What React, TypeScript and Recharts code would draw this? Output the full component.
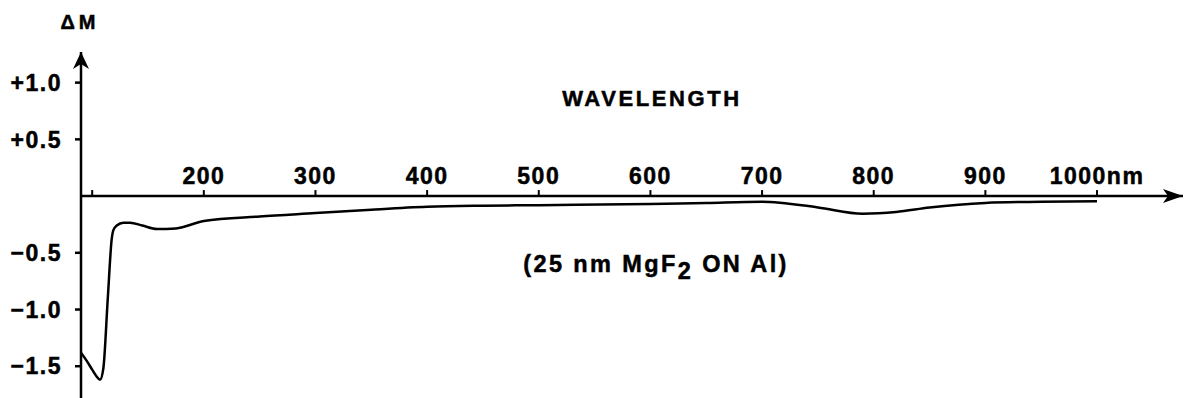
import React from "react";
import {
  LineChart,
  Line,
  XAxis,
  YAxis,
  ReferenceLine,
  ReferenceDot,
} from "recharts";

// wavelength (nm) and change of reflectance ΔM
const wavelengths = [
  90, 95, 100, 104, 107, 110, 114, 117.5, 119, 122, 128, 134, 145, 158, 175,
  200, 250, 300, 350, 400, 450, 500, 600, 650, 700, 750, 790, 820, 850, 900,
  950, 1000,
];
const deltaM = [
  -1.38, -1.45, -1.53, -1.59, -1.62, -1.52, -0.9, -0.38, -0.3, -0.26, -0.235,
  -0.235, -0.26, -0.29, -0.285, -0.22, -0.18, -0.15, -0.12, -0.095, -0.085,
  -0.08, -0.07, -0.06, -0.05, -0.1, -0.155, -0.14, -0.1, -0.06, -0.05, -0.045,
];

const xTicks = [100, 200, 300, 400, 500, 600, 700, 800, 900, 1000];
const xTickLabels = ["", "200", "300", "400", "500", "600", "700", "800", "900", "1000nm"];
const yTicks = [1, 0.5, -0.5, -1, -1.5];
const yTickLabels = ["+1.0", "+0.5", "\u22120.5", "\u22121.0", "\u22121.5"];

const X_DOMAIN: [number, number] = [90, 1077];
const Y_DOMAIN: [number, number] = [-1.78, 1.27];

const FONT = "'Liberation Sans', Arial, Helvetica, sans-serif";

const data = wavelengths.map((nm, i) => ({ nm, dm: deltaM[i] }));

const textStyle: React.CSSProperties = {
  position: "absolute",
  fontFamily: FONT,
  fontWeight: "bold",
  color: "#000",
  whiteSpace: "nowrap",
  transform: "translate(-50%, -50%)",
  WebkitTextStroke: "0.5px #000",
};

export default function App() {
  return (
    <div
      style={{
        position: "absolute",
        left: 0,
        top: 0,
        width: 1188,
        height: 398,
        background: "#fff",
      }}
    >
      <LineChart
        width={1188}
        height={398}
        data={data}
        margin={{ top: 52, right: 5, bottom: 0, left: 6 }}
      >
        <XAxis
          dataKey="nm"
          type="number"
          domain={X_DOMAIN}
          allowDataOverflow
          hide
        />
        <YAxis
          type="number"
          domain={Y_DOMAIN}
          allowDataOverflow
          ticks={yTicks}
          width={75}
          tickSize={6}
          tickMargin={13}
          axisLine={{ stroke: "#000", strokeWidth: 2.5 }}
          tickLine={{ stroke: "#000", strokeWidth: 2.5 }}
          tickFormatter={(v: number) => yTickLabels[yTicks.indexOf(v)] ?? ""}
          tick={{
            fill: "#000",
            stroke: "#000",
            strokeWidth: 0.5,
            fontSize: 23,
            fontWeight: "bold",
            fontFamily: FONT,
            letterSpacing: 1.5,
          }}
        />
        <ReferenceLine y={0} stroke="#000" strokeWidth={2.5} />
        {xTicks.map((t, i) => (
          <ReferenceDot
            key={t}
            x={t}
            y={0}
            ifOverflow="visible"
            shape={(p: any) => (
              <g>
                <line x1={p.cx} y1={p.cy} x2={p.cx} y2={p.cy - 6} stroke="#000" strokeWidth={2} />
                <text
                  x={p.cx}
                  y={p.cy - 12}
                  textAnchor="middle"
                  fontFamily={FONT}
                  fontWeight="bold"
                  fontSize={23}
                  letterSpacing={1.5}
                  fill="#000"
                  stroke="#000"
                  strokeWidth={0.5}
                >
                  {xTickLabels[i]}
                </text>
              </g>
            )}
          />
        ))}
        {/* arrow heads */}
        <ReferenceDot
          x={X_DOMAIN[1]}
          y={0}
          ifOverflow="visible"
          shape={(p: any) => (
            <polygon
              points={`${p.cx},${p.cy} ${p.cx - 20},${p.cy - 7} ${p.cx - 15},${p.cy} ${p.cx - 20},${p.cy + 7}`}
              fill="#000"
            />
          )}
        />
        <ReferenceDot
          x={X_DOMAIN[0]}
          y={Y_DOMAIN[1]}
          ifOverflow="visible"
          shape={(p: any) => (
            <polygon
              points={`${p.cx},${p.cy} ${p.cx - 8},${p.cy + 17} ${p.cx},${p.cy + 12} ${p.cx + 8},${p.cy + 17}`}
              fill="#000"
            />
          )}
        />
        <Line
          dataKey="dm"
          type="monotone"
          stroke="#000"
          strokeWidth={2.5}
          dot={false}
          isAnimationActive={false}
        />
      </LineChart>
      <div style={{ ...textStyle, left: 80, top: 22, fontSize: 20, letterSpacing: 4 }}>ΔM</div>
      <div style={{ ...textStyle, left: 652, top: 99, fontSize: 22, letterSpacing: 2.6 }}>
        WAVELENGTH
      </div>
      <div style={{ ...textStyle, left: 656, top: 264, fontSize: 23.5, letterSpacing: 2.4 }}>
        (25 nm MgF<sub style={{ fontSize: 23.5, verticalAlign: "-0.3em", lineHeight: 0 }}>2</sub> ON Al)
      </div>
    </div>
  );
}
